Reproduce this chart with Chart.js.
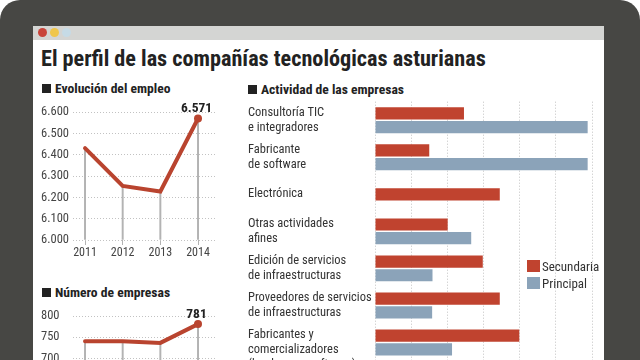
<!DOCTYPE html>
<html><head><meta charset="utf-8">
<script src="https://cdn.jsdelivr.net/npm/chart.js@4.4.1/dist/chart.umd.min.js"></script>
<style>
html,body{margin:0;padding:0;width:640px;height:360px;overflow:hidden;background:#fff;}
body{position:relative;font-family:"Liberation Sans Narrow","Roboto Condensed",Roboto,sans-serif;}
#frame{position:absolute;left:0;top:0;width:640px;height:420px;background:#474744;border-radius:20px 20px 0 0;}
#panel{position:absolute;left:33px;top:26px;width:571px;height:400px;background:#fff;}
#topbar{position:absolute;left:33px;top:26px;width:571px;height:14px;background:#d4d5d3;}
.dot{position:absolute;top:28px;width:9px;height:9px;border-radius:50%;}
h1{position:absolute;left:41px;top:45px;margin:0;font-size:22.2px;font-weight:bold;color:#222;line-height:26px;white-space:nowrap;}
.hd{position:absolute;font-size:13.6px;font-weight:bold;color:#222;white-space:nowrap;line-height:16px;}
.hd i{display:inline-block;width:9px;height:9px;background:#222;margin-right:4px;vertical-align:0px;}
canvas{position:absolute;}
.lg{position:absolute;left:527px;font-size:13px;color:#333;line-height:12px;white-space:nowrap;}
.lg i{display:inline-block;width:13px;height:12px;margin-right:2px;vertical-align:-1px;}
</style></head><body>
<div id="frame"></div>
<div id="panel"></div>
<div id="topbar"></div>
<div class="dot" style="left:38px;background:#c9443a"></div>
<div class="dot" style="left:50px;background:#f0c64a"></div>
<div class="dot" style="left:62px;background:#c6dbe6"></div>
<h1>El perfil de las compañías tecnológicas asturianas</h1>
<div class="hd" style="left:42px;top:80px"><i></i>Evolución del empleo</div>
<div class="hd" style="left:42px;top:284px"><i></i>Número de empresas</div>
<div class="hd" style="left:248px;top:81px"><i></i>Actividad de las empresas</div>
<canvas id="c1" width="180" height="165" style="left:41px;top:100px;width:180px;height:165px"></canvas>
<canvas id="c2" width="180" height="105" style="left:41px;top:300px;width:180px;height:105px"></canvas>
<canvas id="c3" width="350" height="261" style="left:248px;top:100px;width:350px;height:261px"></canvas>
<div class="lg" style="top:260px"><i style="background:#c0432f"></i>Secundaria</div>
<div class="lg" style="top:277px"><i style="background:#8ba3b9"></i>Principal</div>
<script>
// ---- data ----
const years = [2011, 2012, 2013, 2014];
const empleo = [6432, 6254, 6228, 6571];
const empleoTicks = [6000, 6100, 6200, 6300, 6400, 6500, 6600];
const empresas = [741, 741, 737, 781];
const empresasTicks = [650, 700, 750, 800];

const categories = [
  ['Consultoría TIC', 'e integradores'],
  ['Fabricante', 'de software'],
  'Electrónica',
  ['Otras actividades', 'afines'],
  ['Edición de servicios', 'de infraestructuras'],
  ['Proveedores de servicios', 'de infraestructuras'],
  ['', 'Fabricantes y', 'comercializadores', '(hardware y software)']
];
const secundaria = [24.6, 15.0, 34.5, 20.1, 29.8, 34.5, 39.9];
const principal = [58.8, 58.8, null, 26.6, 15.9, 15.8, 21.3];

// ---- helpers ----
const FONT = '"Liberation Sans Narrow","Roboto Condensed",Roboto,sans-serif';
Chart.defaults.font.family = FONT;
const RED = '#b9442f';
function fmt(v){ const s = String(Math.round(v)); return s.length > 3 ? s.slice(0, s.length-3) + '.' + s.slice(-3) : s; }

const lastLabel = {
  id: 'lastLabel',
  afterDatasetsDraw(chart) {
    const ds = chart.data.datasets.findIndex(d => d.type === 'line');
    const meta = chart.getDatasetMeta(ds);
    const pts = meta.data;
    const p = pts[pts.length - 1];
    const v = chart.data.datasets[ds].data[pts.length - 1].y;
    const ctx = chart.ctx;
    ctx.save();
    ctx.font = 'bold 13.5px ' + FONT;
    ctx.fillStyle = '#222';
    ctx.textAlign = 'center';
    ctx.textBaseline = 'middle';
    ctx.fillText(fmt(v), p.x - 1.5, p.y - 9.5);
    ctx.restore();
  }
};

function lineChart(id, values, ticks, padTop) {
  const pts = years.map((y, i) => ({x: y, y: values[i]}));
  new Chart(document.getElementById(id), {
    data: {
      datasets: [
        {type: 'line', data: pts, borderColor: RED, borderWidth: 4, tension: 0,
         pointRadius: c => c.dataIndex === years.length - 1 ? 4 : 0,
         pointBackgroundColor: RED, pointBorderWidth: 0, order: 0, borderCapStyle: 'round'},
        {type: 'bar', data: pts, backgroundColor: '#b3b3b3', barThickness: 1.3,
         base: ticks[0], order: 1}
      ]
    },
    options: {
      responsive: false, animation: false,
      layout: {padding: {top: padTop, right: 6, left: 0, bottom: 0}},
      plugins: {legend: {display: false}, tooltip: {enabled: false}},
      scales: {
        x: {type: 'linear', min: 2010.681, max: 2014.451, offset: false,
            afterBuildTicks: s => { s.ticks = years.map(v => ({value: v})); },
            afterFit: s => { s.height = 25; s.paddingLeft = 0; s.paddingRight = 0; },
            grid: {offset: false, drawOnChartArea: false, drawTicks: true, tickLength: 5, color: '#b3b3b3'},
            border: {display: false},
            ticks: {callback: v => String(v), color: '#444', font: {size: 12}, padding: 1, maxRotation: 0}},
        y: {min: ticks[0], max: ticks[ticks.length - 1],
            afterBuildTicks: s => { s.ticks = ticks.map(v => ({value: v})); },
            afterFit: s => { s.width = 32; },
            grid: {color: '#c2c2c2', lineWidth: 1, drawTicks: false},
            border: {display: false, dash: [1, 2]},
            ticks: {callback: v => fmt(v), color: '#444', font: {size: 12.5}, crossAlign: 'far', padding: 0}}
      }
    },
    plugins: [lastLabel]
  });
}
lineChart('c1', empleo, empleoTicks, 12.3);
lineChart('c2', empresas, empresasTicks, 16);

new Chart(document.getElementById('c3'), {
  type: 'bar',
  data: {
    labels: categories,
    datasets: [
      {label: 'Secundaria', data: secundaria, backgroundColor: '#c0432f'},
      {label: 'Principal', data: principal, backgroundColor: '#8ba3b9'}
    ]
  },
  options: {
    indexAxis: 'y', responsive: false, animation: false,
    skipNull: true,
    categoryPercentage: 0.74, barPercentage: 0.89, maxBarThickness: 12.2,
    layout: {padding: {top: 1.7, right: 6, left: 0, bottom: 0}},
    plugins: {legend: {display: false}, tooltip: {enabled: false}},
    scales: {
      x: {min: 0, max: 60, ticks: {display: false, stepSize: 10},
          afterFit: s => { s.height = 0; s.paddingLeft = 0; s.paddingRight = 0; },
          grid: {color: '#c2c2c2', drawTicks: false},
          border: {display: false, dash: [1, 2]}},
      y: {ticks: {crossAlign: 'far', autoSkip: false, padding: 0, color: '#333',
                  font: {size: 12.5, lineHeight: 1.2}},
          afterFit: s => { s.width = 127; s.paddingTop = 0; s.paddingBottom = 0; },
          grid: {display: false}, border: {display: false}}
    }
  }
});
</script>
</body></html>
